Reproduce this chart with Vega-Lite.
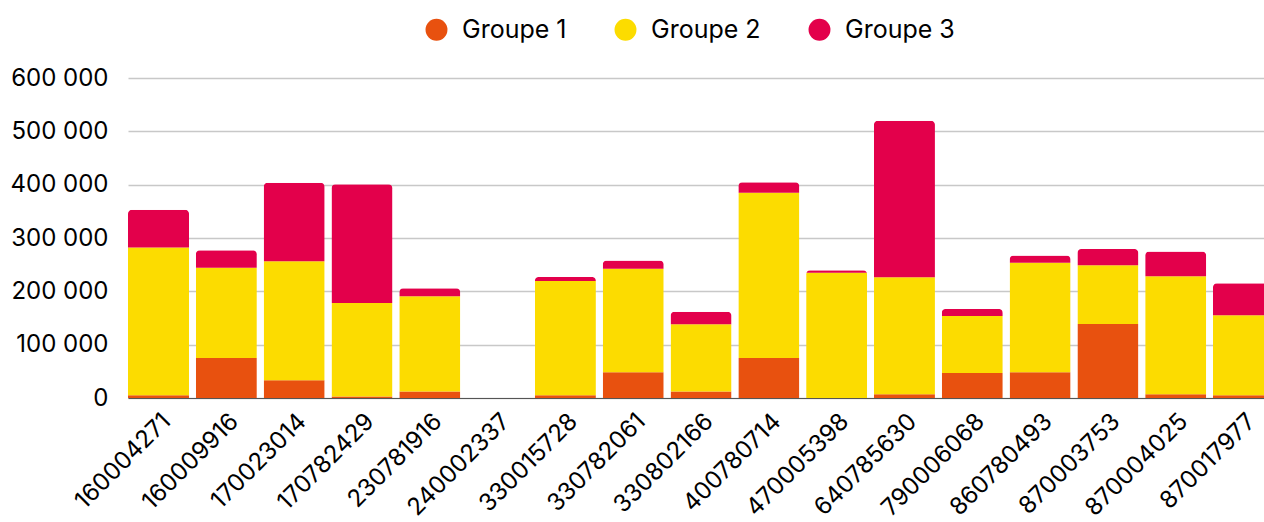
{
  "$schema": "https://vega.github.io/schema/vega-lite/v6.json",
  "autosize": {"type": "none"},
  "padding": {"left": 128, "top": 78, "right": 0, "bottom": 124},
  "width": 1146,
  "height": 320,
  "background": "#ffffff",
  "config": {
    "view": {"stroke": null},
    "font": "Inter",
    "locale": {"number": {"decimal": ",", "thousands": " ", "grouping": [3], "currency": ["", " €"]}}
  },
  "data": {"values": [
    {"id": "160004271", "g": "Groupe 1", "v": 5000},
    {"id": "160004271", "g": "Groupe 2", "v": 277000},
    {"id": "160004271", "g": "Groupe 3", "v": 71000},
    {"id": "160009916", "g": "Groupe 1", "v": 75000},
    {"id": "160009916", "g": "Groupe 2", "v": 169000},
    {"id": "160009916", "g": "Groupe 3", "v": 33000},
    {"id": "170023014", "g": "Groupe 1", "v": 33500},
    {"id": "170023014", "g": "Groupe 2", "v": 223000},
    {"id": "170023014", "g": "Groupe 3", "v": 147000},
    {"id": "170782429", "g": "Groupe 1", "v": 3000},
    {"id": "170782429", "g": "Groupe 2", "v": 175000},
    {"id": "170782429", "g": "Groupe 3", "v": 223000},
    {"id": "230781916", "g": "Groupe 1", "v": 12000},
    {"id": "230781916", "g": "Groupe 2", "v": 179000},
    {"id": "230781916", "g": "Groupe 3", "v": 15000},
    {"id": "240002337", "g": "Groupe 1", "v": 0},
    {"id": "240002337", "g": "Groupe 2", "v": 0},
    {"id": "240002337", "g": "Groupe 3", "v": 0},
    {"id": "330015728", "g": "Groupe 1", "v": 5000},
    {"id": "330015728", "g": "Groupe 2", "v": 214500},
    {"id": "330015728", "g": "Groupe 3", "v": 7500},
    {"id": "330782061", "g": "Groupe 1", "v": 48500},
    {"id": "330782061", "g": "Groupe 2", "v": 193700},
    {"id": "330782061", "g": "Groupe 3", "v": 15700},
    {"id": "330802166", "g": "Groupe 1", "v": 12000},
    {"id": "330802166", "g": "Groupe 2", "v": 126500},
    {"id": "330802166", "g": "Groupe 3", "v": 23300},
    {"id": "400780714", "g": "Groupe 1", "v": 75000},
    {"id": "400780714", "g": "Groupe 2", "v": 310000},
    {"id": "400780714", "g": "Groupe 3", "v": 19500},
    {"id": "470005398", "g": "Groupe 1", "v": 0},
    {"id": "470005398", "g": "Groupe 2", "v": 234700},
    {"id": "470005398", "g": "Groupe 3", "v": 5000},
    {"id": "640785630", "g": "Groupe 1", "v": 7000},
    {"id": "640785630", "g": "Groupe 2", "v": 219500},
    {"id": "640785630", "g": "Groupe 3", "v": 293300},
    {"id": "790006068", "g": "Groupe 1", "v": 46700},
    {"id": "790006068", "g": "Groupe 2", "v": 107100},
    {"id": "790006068", "g": "Groupe 3", "v": 13200},
    {"id": "860780493", "g": "Groupe 1", "v": 48500},
    {"id": "860780493", "g": "Groupe 2", "v": 205000},
    {"id": "860780493", "g": "Groupe 3", "v": 13800},
    {"id": "870003753", "g": "Groupe 1", "v": 138700},
    {"id": "870003753", "g": "Groupe 2", "v": 110400},
    {"id": "870003753", "g": "Groupe 3", "v": 30100},
    {"id": "870004025", "g": "Groupe 1", "v": 7000},
    {"id": "870004025", "g": "Groupe 2", "v": 221400},
    {"id": "870004025", "g": "Groupe 3", "v": 46400},
    {"id": "870017977", "g": "Groupe 1", "v": 5000},
    {"id": "870017977", "g": "Groupe 2", "v": 150000},
    {"id": "870017977", "g": "Groupe 3", "v": 60000}
  ]},
  "mark": {"type": "bar", "cornerRadiusEnd": 4},
  "encoding": {
    "x": {
      "field": "id", "type": "nominal", "sort": null, "title": null,
      "scale": {"paddingInner": 0.1, "paddingOuter": 0},
      "axis": {
        "labelAngle": -45, "labelAlign": "right", "labelBaseline": "top",
        "labelFontSize": 24, "labelColor": "#000000", "labelPadding": 11,
        "ticks": false, "domainColor": "#555555", "domainWidth": 1, "grid": false
      }
    },
    "y": {
      "field": "v", "type": "quantitative", "stack": "zero", "title": null,
      "scale": {"domain": [0, 600000], "nice": false},
      "axis": {
        "values": [0, 100000, 200000, 300000, 400000, 500000, 600000],
        "format": ",d", "labelFontSize": 24, "labelColor": "#000000",
        "labelPadding": 20, "ticks": false, "domain": false,
        "gridColor": "#c8c8c8", "gridWidth": 1.3
      }
    },
    "color": {
      "field": "g", "type": "nominal", "title": null,
      "scale": {"domain": ["Groupe 1", "Groupe 2", "Groupe 3"], "range": ["#e8510f", "#fcdc00", "#e3004b"]},
      "legend": {
        "orient": "none", "legendX": 296, "legendY": -61, "direction": "horizontal",
        "symbolType": "circle", "symbolSize": 480, "symbolStrokeWidth": 0,
        "labelFontSize": 25, "labelColor": "#000000", "labelOffset": 13,
        "columnPadding": 46
      }
    },
    "order": {"field": "g", "sort": "ascending"}
  }
}
